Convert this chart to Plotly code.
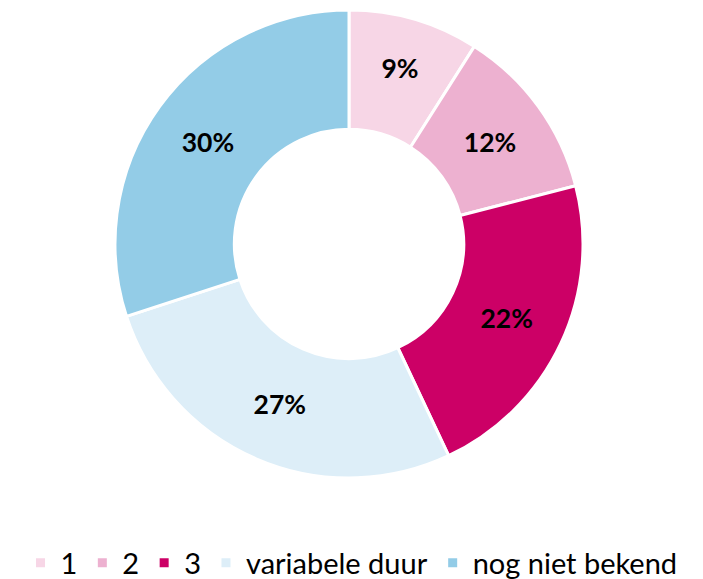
import plotly.graph_objects as go

labels = ["1", "2", "3", "variabele duur", "nog niet bekend"]
values = [9, 12, 22, 27, 30]
colors = ["#F7D6E6", "#EDB1D0", "#CC0066", "#DDEEF8", "#93CCE7"]

fig = go.Figure(go.Pie(
    labels=labels,
    values=values,
    hole=0.49,
    sort=False,
    direction="clockwise",
    rotation=0,
    marker=dict(colors=colors, line=dict(color="white", width=3)),
    texttemplate="<b>%{value}%</b>",
    textposition="inside",
    insidetextorientation="horizontal",
    textfont=dict(family="Lato", size=26.5, color="black"),
    domain=dict(x=[115/703, 583/703], y=[1-478/579, 1-10/579]),
    hoverinfo="label+percent",
))

fig.update_layout(
    width=703, height=579,
    margin=dict(l=0, r=0, t=0, b=0, autoexpand=False),
    paper_bgcolor="white",
    plot_bgcolor="white",
    showlegend=True,
    legend=dict(
        orientation="h",
        x=0.5, xanchor="center",
        y=1-563/579, yanchor="middle",
        font=dict(family="Lato", size=29, color="black"),
        traceorder="normal",
    ),
)

fig.write_html("out.html")
